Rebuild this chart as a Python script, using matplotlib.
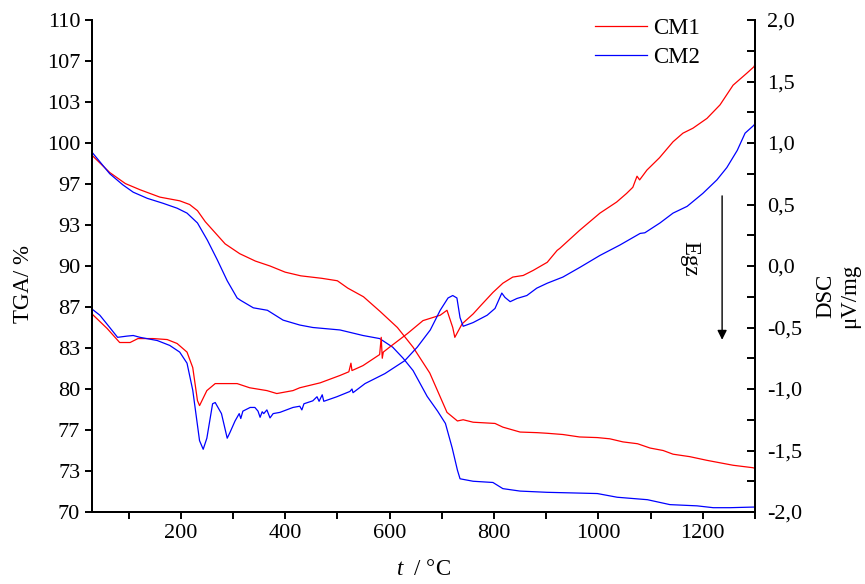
import numpy as np
import matplotlib
matplotlib.use("Agg")
import matplotlib.pyplot as plt
from matplotlib.ticker import FixedLocator, FuncFormatter, MultipleLocator

plt.rcParams['font.family'] = ['Liberation Serif', 'DejaVu Serif']
plt.rcParams['mathtext.fontset'] = 'custom'
plt.rcParams['mathtext.it'] = 'Liberation Serif:italic'
plt.rcParams['mathtext.rm'] = 'Liberation Serif'

# --- TGA (left axis, %) ---
tga_cm1_t = [30, 64, 94, 122, 160, 198, 217, 232, 247, 266, 285, 313, 343, 371, 400, 430,
             470, 500, 520, 550, 582, 615, 645, 677, 710, 730, 741, 760, 802, 817, 850, 883,
             902, 932, 964, 998, 1022, 1047, 1075, 1099, 1124, 1143, 1175, 1208, 1233, 1258,
             1296, 1300]
tga_cm1 = [99.0, 97.6, 96.7, 96.2, 95.6, 95.3, 95.0, 94.5, 93.6, 92.7, 91.8, 91.0, 90.4, 90.0,
           89.5, 89.2, 89.0, 88.8, 88.2, 87.5, 86.3, 85.0, 83.4, 81.3, 78.1, 77.4, 77.5, 77.3,
           77.2, 76.9, 76.5, 76.45, 76.4, 76.3, 76.1, 76.05, 75.95, 75.7, 75.55, 75.2, 75.0,
           74.7, 74.5, 74.2, 74.0, 73.8, 73.6, 73.55]

tga_cm2_t = [31, 64, 89, 109, 136, 166, 193, 212, 232, 251, 270, 289, 308, 315, 339, 366, 396,
             428, 453, 505, 549, 581, 606, 626, 645, 672, 692, 707, 720, 730, 735, 760, 798,
             817, 850, 902, 951, 998, 1036, 1094, 1137, 1189, 1220, 1252, 1296, 1300]
tga_cm2 = [99.2, 97.5, 96.6, 96.0, 95.5, 95.1, 94.7, 94.3, 93.5, 92.1, 90.5, 88.8, 87.4, 87.2,
           86.6, 86.4, 85.6, 85.2, 85.0, 84.8, 84.35, 84.1, 83.4, 82.5, 81.5, 79.4, 78.2, 77.2,
           75.2, 73.4, 72.7, 72.5, 72.4, 71.9, 71.7, 71.6, 71.55, 71.5, 71.2, 71.0, 70.6, 70.5,
           70.35, 70.35, 70.4, 70.4]

# --- DSC (right axis, uV/mg) ---
dsc_cm1_t = [30, 59, 83, 103, 118, 147, 174, 193, 212, 223, 232, 236, 250, 266, 308, 332, 365,
             384, 415, 428, 467, 505, 522, 526, 528, 549, 581, 584, 586, 588, 600, 634, 664,
             697, 710, 721, 725, 739, 760, 775, 798, 817, 836, 856, 875, 902, 921, 926, 964,
             1003, 1035, 1054, 1066, 1074, 1079, 1093, 1117, 1143, 1162, 1181, 1208, 1233,
             1258, 1285, 1298, 1300]
dsc_cm1 = [-0.39, -0.508, -0.622, -0.622, -0.59, -0.59, -0.598, -0.63, -0.70, -0.826, -1.094,
           -1.135, -1.013, -0.956, -0.956, -0.99, -1.013, -1.037, -1.013, -0.99, -0.95, -0.89,
           -0.86, -0.79, -0.85, -0.81, -0.72, -0.58, -0.75, -0.70, -0.66, -0.55, -0.444, -0.40,
           -0.36, -0.50, -0.58, -0.47, -0.39, -0.32, -0.215, -0.14, -0.09, -0.077, -0.036, 0.03,
           0.127, 0.143, 0.29, 0.43, 0.52, 0.59, 0.64, 0.73, 0.70, 0.78, 0.88, 1.01, 1.08,
           1.12, 1.20, 1.31, 1.47, 1.57, 1.62, 1.64]

dsc_cm2_t = [30, 45, 64, 79, 97, 109, 122, 155, 179, 198, 212, 223, 236, 243, 250, 261, 266,
             278, 289, 294, 304, 312, 315, 319, 333, 342, 348, 352, 356, 359, 365, 371, 377,
             390, 415, 428, 432, 436, 453, 461, 465, 471, 474, 499, 524, 528, 530, 553, 591,
             629, 653, 678, 697, 712, 721, 729, 735, 741, 760, 787, 802, 815, 821, 831, 844,
             863, 882, 902, 932, 965, 1003, 1041, 1080, 1089, 1118, 1143, 1170, 1200, 1227,
             1246, 1266, 1281, 1298, 1300]
dsc_cm2 = [-0.35, -0.40, -0.50, -0.58, -0.57, -0.565, -0.58, -0.606, -0.646, -0.70, -0.79,
           -1.01, -1.42, -1.49, -1.40, -1.12, -1.11, -1.20, -1.40, -1.356, -1.26, -1.20, -1.24,
           -1.18, -1.15, -1.15, -1.18, -1.23, -1.185, -1.20, -1.17, -1.235, -1.20, -1.19, -1.15,
           -1.14, -1.17, -1.12, -1.096, -1.063, -1.10, -1.047, -1.10, -1.063, -1.02, -1.0,
           -1.03, -0.956, -0.875, -0.77, -0.66, -0.52, -0.36, -0.26, -0.24, -0.26, -0.42,
           -0.49, -0.46, -0.40, -0.345, -0.22, -0.255, -0.29, -0.264, -0.24, -0.18, -0.14,
           -0.09, -0.01, 0.086, 0.17, 0.265, 0.27, 0.35, 0.43, 0.485, 0.59, 0.70, 0.80, 0.94,
           1.08, 1.145, 1.16]

RED = '#ff0000'
BLUE = '#0000ff'
FS_TICK = 16
FS_LABEL = 16.5

fig = plt.figure(figsize=(8.65, 5.84), dpi=100)
ax = fig.add_axes([92 / 865, 1 - 512 / 584, 663 / 865, 492 / 584])
ax2 = ax.twinx()

ax.plot(tga_cm1_t, tga_cm1, color=RED, lw=0.9)
ax.plot(tga_cm2_t, tga_cm2, color=BLUE, lw=0.9)
l1, = ax2.plot(dsc_cm1_t, dsc_cm1, color=RED, lw=0.9, label='CM1')
l2, = ax2.plot(dsc_cm2_t, dsc_cm2, color=BLUE, lw=0.9, label='CM2')

ax.set_xlim(30, 1300)
ax.set_ylim(70, 110)
ax2.set_ylim(-2.0, 2.0)

# left axis ticks
ax.yaxis.set_major_locator(FixedLocator(np.linspace(70, 110, 13)))
ax.yaxis.set_major_formatter(FuncFormatter(lambda v, p: '%d' % round(v)))
ax.xaxis.set_major_locator(MultipleLocator(200))
ax.xaxis.set_minor_locator(MultipleLocator(100))
ax.xaxis.set_major_formatter(FuncFormatter(lambda v, p: '%d' % v))
ax.tick_params(axis='both', which='both', direction='out', width=1.4, labelsize=FS_TICK)
ax.tick_params(axis='both', which='major', length=5)
ax.tick_params(axis='x', which='minor', length=5)
ax.tick_params(axis='y', which='minor', left=False)

# right axis ticks
ax2.yaxis.set_major_locator(MultipleLocator(0.5))
ax2.yaxis.set_minor_locator(MultipleLocator(0.25))
ax2.yaxis.set_major_formatter(FuncFormatter(lambda v, p: ('%.1f' % v).replace('.', ',')))
ax2.tick_params(axis='y', which='both', direction='in', width=1.4, length=6,
                labelsize=FS_TICK, pad=9)

for a in (ax, ax2):
    a.spines['top'].set_visible(False)
    for s in ('left', 'right', 'bottom'):
        a.spines[s].set_linewidth(1.4)

ax.set_ylabel('TGA/ %', fontsize=FS_LABEL)
ax.yaxis.set_label_coords(-0.087, 0.463)
ax.set_xlabel(r'$t$  / °C', fontsize=FS_LABEL, labelpad=12)

fig.text(838 / 865, 1 - 296 / 584, 'DSC\nμV/mg', rotation=90, fontsize=FS_LABEL,
         ha='center', va='center', multialignment='center', linespacing=1.2)

ax2.text(1175, 0.06, 'Egz', rotation=270, fontsize=FS_LABEL, ha='center', va='center')
ax2.annotate('', xy=(1237, -0.6), xytext=(1237, 0.57),
             arrowprops=dict(arrowstyle='-|>', color='black', lw=1.0,
                             mutation_scale=14, shrinkA=0, shrinkB=0))

ax2.legend(handles=[l1, l2], loc='upper right', bbox_to_anchor=(0.931, 1.022),
           frameon=False, fontsize=FS_LABEL, handlelength=2.3, handletextpad=0.25,
           labelspacing=0.35, borderaxespad=0)

fig.savefig('out.png', dpi=100)
